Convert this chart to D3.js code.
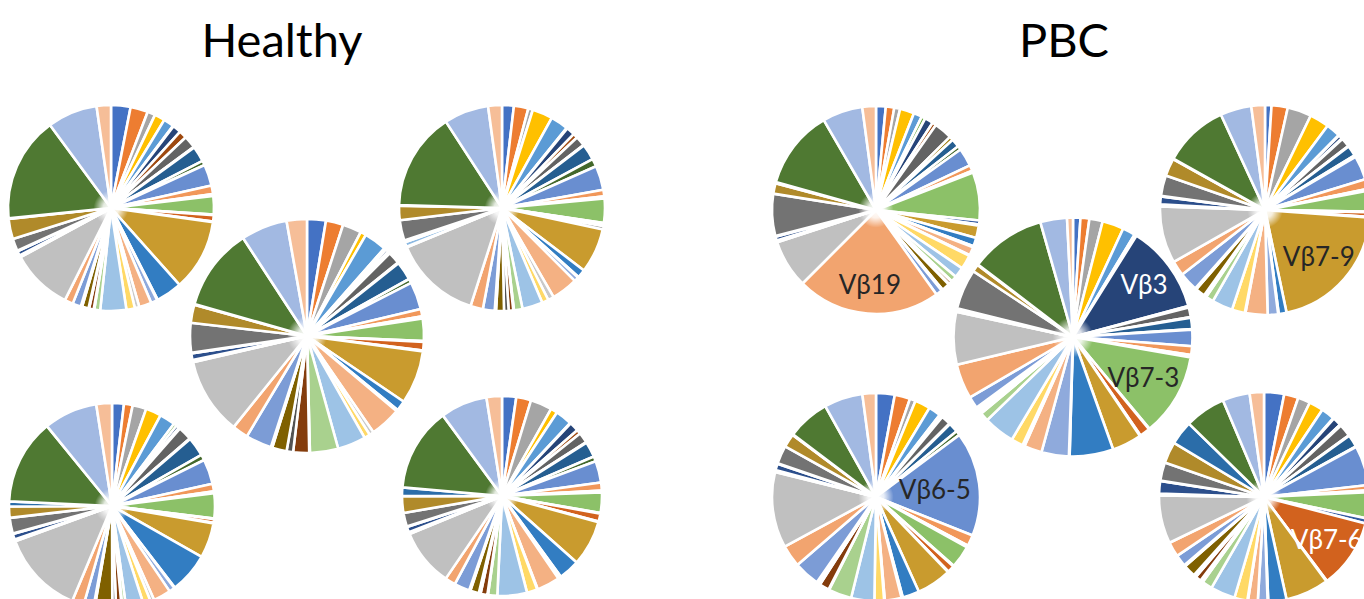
<!DOCTYPE html>
<html>
<head>
<meta charset="utf-8">
<script src="https://cdn.jsdelivr.net/npm/d3@7"></script>
<style>
  html, body { margin: 0; padding: 0; background: #ffffff; }
  svg { display: block; }
</style>
</head>
<body>
<svg id="chart" width="1364" height="599"></svg>
<script>
// TCR V-beta families, in the order the slices run clockwise from 12 o'clock
const families = [
  "Vβ2","Vβ4-1","Vβ4-2","Vβ4-3","Vβ5-1","Vβ5-4","Vβ3","Vβ5-5","Vβ5-6","Vβ5-8",
  "Vβ6-1","Vβ6-4","Vβ6-5","Vβ6-6","Vβ6-8","Vβ6-9","Vβ7-2","Vβ7-3","Vβ7-4","Vβ7-6",
  "Vβ7-8","Vβ7-9","Vβ9","Vβ10-1","Vβ10-2","Vβ10-3","Vβ11-1","Vβ11-2","Vβ11-3","Vβ12-3",
  "Vβ12-4","Vβ12-5","Vβ13","Vβ14","Vβ15","Vβ16","Vβ18","Vβ19","Vβ20-1","Vβ21-1",
  "Vβ22-1","Vβ23-1","Vβ24-1","Vβ25-1","Vβ26","Vβ27","Vβ28","Vβ29-1","Vβ30","Vβ17"
];

// Group titles
const groups = ["Healthy", "PBC"];

// Repertoire share (% of reads) per family, healthy donors
const healthy1 = [3.0,2.7,1.2,1.6,1.6,0.1,1.3,1.2,1.9,0.1, 2.4,0.7,3.3,1.3,0.1,0.1,0.1,2.8,0.1,1.0,
                  0.1,11.0,4.0,0.1,1.0,1.9,0.7,1.3,4.0,0.9, 0.1,0.7,0.1,1.0,0.1,0.1,1.3,1.3,9.5,0.1,
                  0.1,0.1,0.7,0.1,1.9,3.1,0.1,16.2,7.7,2.2];
const healthy2 = [1.8,2.2,0.7,3.1,2.7,0.1,1.3,0.7,1.5,0.1, 2.4,1.2,3.7,1.0,0.1,0.1,0.1,3.7,0.1,0.4,
                  0.5,6.8,1.3,0.1,0.7,4.0,0.9,1.0,3.1,1.3, 0.1,0.7,0.7,1.2,0.1,0.1,1.8,1.9,13.4,0.1,
                  0.7,0.1,0.1,0.1,3.1,2.2,0.1,14.9,6.8,2.1];
const healthy3 = [2.6,2.4,2.6,0.8,3.1,0.3,0.4,0.3,1.7,0.1, 2.6,0.6,3.8,1.0,0.1,0.1,0.1,3.1,0.1,1.2,
                  0.1,7.4,1.4,0.1,0.1,4.3,0.6,0.8,3.9,3.9, 0.1,2.2,0.9,2.0,0.1,0.1,3.6,2.2,10.6,0.1,
                  0.1,0.1,0.9,0.1,4.1,2.5,0.1,11.4,6.4,2.8];
const healthy4 = [1.9,1.4,2.2,2.5,2.5,0.5,0.5,0.2,2.2,0.1, 3.1,0.9,4.0,1.2,0.1,0.1,0.1,4.0,0.1,0.6,
                  0.1,5.6,6.5,0.1,0.9,2.8,0.6,1.2,2.8,0.6, 0.1,0.9,0.6,2.8,0.1,0.1,1.6,1.9,13.4,0.1,
                  0.1,0.1,0.9,0.1,2.5,1.8,0.8,13.7,8.6,2.5];
const healthy5 = [2.3,2.4,3.5,1.1,2.7,0.1,1.5,0.7,1.7,0.1, 2.5,0.8,3.5,1.3,0.1,0.1,0.1,3.3,0.1,1.3,
                  0.1,7.4,3.4,0.3,0.2,3.7,0.1,1.7,4.8,1.5, 0.1,1.1,0.3,1.4,0.1,0.1,2.5,1.7,9.3,0.1,
                  0.1,0.1,0.9,0.1,2.2,2.7,1.4,13.6,7.6,2.5];

// Repertoire share (% of reads) per family, PBC patients
const pbc1 = [1.5,1.3,0.9,2.2,1.3,0.6,1.3,0.6,2.8,0.6, 1.3,0.6,2.8,0.9,0.1,0.1,0.1,7.4,0.6,0.1,
              0.1,1.9,1.3,0.1,0.1,1.3,0.1,2.2,1.6,0.9, 0.1,0.5,0.1,1.2,0.1,0.1,1.0,22.2,7.4,0.1,
              0.1,0.1,0.6,0.1,6.5,1.6,0.2,12.2,6.2,2.1];
const pbc2 = [1.0,2.5,3.7,3.0,2.2,0.1,0.6,0.1,1.4,0.1, 1.6,0.3,3.7,1.5,0.1,0.1,0.1,3.2,0.1,0.7,
              0.1,20.6,1.2,0.1,1.6,3.4,0.1,2.0,3.2,1.2, 0.1,0.2,0.1,1.5,0.1,0.1,2.9,2.3,8.8,0.1,
              0.1,0.1,1.2,0.1,3.2,2.7,0.1,10.0,4.8,2.1];
const pbc3 = [1.0,1.2,1.8,2.9,1.7,0.3,11.9,0.2,1.3,0.1, 1.5,0.1,2.2,1.2,0.1,0.1,0.1,11.2,0.1,1.4,
              0.1,4.0,5.9,0.1,3.7,2.4,0.3,1.6,4.2,1.2, 0.1,0.3,0.1,0.3,0.1,0.1,1.6,4.7,7.1,0.1,
              0.1,0.1,0.1,0.1,5.4,1.0,0.1,10.2,3.6,0.8];
const pbc4 = [2.9,2.4,0.9,2.4,1.9,0.2,0.2,0.1,1.5,0.1, 1.5,0.7,16.2,1.7,0.1,0.1,0.1,3.5,0.1,1.1,
              0.1,5.4,2.6,0.1,0.1,2.6,0.1,1.5,3.6,3.6, 0.1,1.5,0.1,0.3,0.1,0.1,4.0,3.4,11.8,0.1,
              0.1,0.1,1.0,0.1,2.8,2.1,0.1,6.6,6.0,2.1];
const pbc5 = [3.1,2.2,1.9,2.2,2.1,0.1,1.3,0.2,1.9,0.1, 1.9,0.1,6.1,0.8,0.1,0.1,0.1,4.0,0.8,10.7,
              0.1,6.7,2.8,0.1,1.5,1.5,0.1,2.0,3.8,1.6, 0.4,0.9,0.4,1.9,0.1,0.1,1.8,2.3,7.4,0.1,
              0.1,0.1,1.9,0.1,2.8,3.3,3.7,6.3,4.2,2.2];

// Expanded families called out on the PBC pies
const calloutSamples  = ["pbc1", "pbc3", "pbc3", "pbc2", "pbc4", "pbc5"];
const calloutFamilies = ["Vβ19", "Vβ3", "Vβ7-3", "Vβ7-9", "Vβ6-5", "Vβ7-6"];

// ---------------------------------------------------------------------------
const sampleValues = { healthy1, healthy2, healthy3, healthy4, healthy5, pbc1, pbc2, pbc3, pbc4, pbc5 };

// Office-style theme palette cycled across the families
const palette = [
  "#4472C4","#ED7D31","#A5A5A5","#FFC000","#5B9BD5","#70AD47",
  "#264478","#9E480E","#636363","#997300","#255E91","#43682B",
  "#698ED0","#F1975A","#B7B7B7","#FFCD33","#7CAFDD","#8CC168",
  "#335AA1","#D2621E","#848484","#C99B2E","#327DC2","#5A8A39",
  "#8FAADC","#F4B183","#C9C9C9","#FFD966","#9DC3E6","#A9D18E",
  "#203864","#843C0C","#525252","#7F6000","#1F4E79","#385723",
  "#7C9CD6","#F2A46F","#C0C0C0","#FFD34D","#8CB9E2","#9BC97B",
  "#2C4F8C","#B85410","#737373","#B08A2A","#2B6DA9","#4F7932",
  "#A2B9E2","#F6BE98"
];
const color = d3.scaleOrdinal().domain(families).range(palette);

// Where each pie sits: the two centre pies are drawn last, on top
const placement = [
  { key: "healthy1", cx: 111,  cy: 208, r: 103 },
  { key: "healthy2", cx: 502,  cy: 208, r: 103 },
  { key: "healthy4", cx: 112,  cy: 506, r: 103 },
  { key: "healthy5", cx: 502,  cy: 496, r: 100 },
  { key: "healthy3", cx: 307,  cy: 336, r: 117 },
  { key: "pbc1",     cx: 876,  cy: 210, r: 104 },
  { key: "pbc2",     cx: 1265, cy: 210, r: 105 },
  { key: "pbc4",     cx: 876,  cy: 497, r: 104 },
  { key: "pbc5",     cx: 1264, cy: 497, r: 105 },
  { key: "pbc3",     cx: 1073, cy: 337, r: 119.5 }
];
// label radius (fraction of pie radius) and ink for each callout
const calloutStyle = {
  "pbc1|Vβ19":  { at: 0.72, ink: "#262626" },
  "pbc3|Vβ3":   { at: 0.74, ink: "#ffffff" },
  "pbc3|Vβ7-3": { at: 0.68, ink: "#262626" },
  "pbc2|Vβ7-9": { at: 0.68, ink: "#262626" },
  "pbc4|Vβ6-5": { at: 0.57, ink: "#262626" },
  "pbc5|Vβ7-6": { at: 0.72, ink: "#ffffff" }
};

const svg = d3.select("#chart");

// soft white burst where the slice borders meet
const defs = svg.append("defs");
const glow = defs.append("radialGradient").attr("id", "hub");
glow.append("stop").attr("offset", "0%").attr("stop-color", "#fff").attr("stop-opacity", 1);
glow.append("stop").attr("offset", "45%").attr("stop-color", "#fff").attr("stop-opacity", 0.85);
glow.append("stop").attr("offset", "100%").attr("stop-color", "#fff").attr("stop-opacity", 0);

// Group titles
const titleX = [282, 1064];
svg.selectAll("text.title")
  .data(groups)
  .join("text")
  .attr("class", "title")
  .attr("x", (d, i) => titleX[i])
  .attr("y", 57)
  .attr("text-anchor", "middle")
  .style("font-family", "Lato, 'Open Sans', sans-serif")
  .style("font-size", "47px")
  .style("fill", "#000")
  .text(d => d);

const pie = d3.pie().sort(null).value(d => d.value);

placement.forEach(p => {
  const rows = families.map((f, i) => ({ family: f, value: sampleValues[p.key][i] }));
  const arcs = pie(rows);
  const g = svg.append("g").attr("transform", `translate(${p.cx},${p.cy})`);

  g.append("circle").attr("r", p.r + 3).attr("fill", "#fff");

  const arc = d3.arc().innerRadius(0).outerRadius(p.r);
  g.selectAll("path.slice")
    .data(arcs)
    .join("path")
    .attr("class", "slice")
    .attr("d", arc)
    .attr("fill", d => color(d.data.family))
    .attr("stroke", "#fff")
    .attr("stroke-width", 2.6)
    .attr("stroke-linejoin", "round");

  g.append("circle").attr("r", p.r * 0.17).attr("fill", "url(#hub)");

  // callout labels for expanded families
  calloutSamples.forEach((s, i) => {
    if (s !== p.key) return;
    const fam = calloutFamilies[i];
    const a = arcs.find(d => d.data.family === fam);
    const st = calloutStyle[s + "|" + fam];
    const rr = p.r * st.at;
    const [lx, ly] = d3.arc().innerRadius(rr).outerRadius(rr).centroid(a);
    g.append("text")
      .attr("x", lx).attr("y", ly)
      .attr("dy", "0.36em")
      .attr("text-anchor", "middle")
      .style("font-family", "Lato, 'Open Sans', sans-serif")
      .style("font-size", "26px")
      .style("fill", st.ink)
      .text(fam);
  });
});
</script>
</body>
</html>
